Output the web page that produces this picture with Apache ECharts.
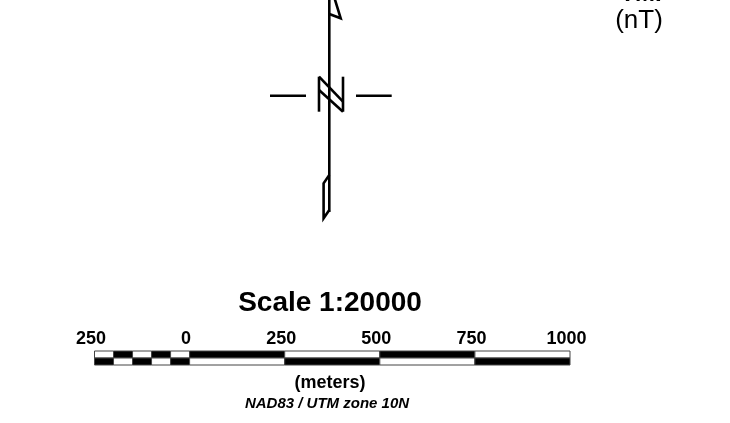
<!DOCTYPE html>
<html>
<head>
<meta charset="utf-8">
<script src="https://cdn.jsdelivr.net/npm/echarts@6/dist/echarts.min.js"></script>
<style>html,body{margin:0;padding:0;background:#fff}#c{width:730px;height:423px}</style>
</head>
<body>
<div id="c"></div>
<script>
// Scale bar data (meters)
var segStart = [-250, -200, -150, -100, -50, 0, 250, 500, 750];
var segEnd   = [-200, -150, -100, -50, 0, 250, 500, 750, 1000];
var topBlack = [0, 1, 0, 1, 0, 1, 0, 1, 0]; // top row fill: 1 = black
var tickValues = [-250, 0, 250, 500, 750, 1000];
var scaleTitle = 'Scale 1:20000';
var unitsLabel = '(meters)';
var projLabel = 'NAD83 / UTM zone 10N';
var legendTitle = 'TMI';
var legendUnits = '(nT)';

var cells = [];
for (var i = 0; i < segStart.length; i++) {
  cells.push([segStart[i], segEnd[i], 1, topBlack[i]]);
  cells.push([segStart[i], segEnd[i], 0, 1 - topBlack[i]]);
}

var F = '"Liberation Sans", Arial, sans-serif';
var chart = echarts.init(document.getElementById('c'));
var lw = 2.6;
function seg(x1, y1, x2, y2) {
  return {type: 'line', shape: {x1: x1, y1: y1, x2: x2, y2: y2}, style: {stroke: '#000', lineWidth: lw}};
}
chart.setOption({
  animation: false,
  backgroundColor: '#fff',
  grid: {left: 94.5, right: 160, top: 351, height: 14},
  xAxis: {
    type: 'value', position: 'top', min: -250, max: 1000, interval: 250,
    axisLine: {show: false}, axisTick: {show: false}, splitLine: {show: false},
    axisLabel: {
      margin: 3, color: '#000', fontFamily: F, fontWeight: 'bold', fontSize: 18,
      padding: [0, 7, 0, 0],
      formatter: function (v) { return String(Math.abs(v)); }
    }
  },
  yAxis: {type: 'value', min: 0, max: 2, show: false},
  series: [{
    type: 'custom',
    data: cells,
    renderItem: function (params, api) {
      var p0 = api.coord([api.value(0), api.value(2) + 1]);
      var p1 = api.coord([api.value(1), api.value(2)]);
      return {
        type: 'rect',
        shape: {x: p0[0], y: p0[1], width: p1[0] - p0[0], height: p1[1] - p0[1]},
        style: {fill: api.value(3) ? '#000' : '#fff', stroke: '#444', lineWidth: 1}
      };
    }
  }],
  graphic: [
    {type: 'text', style: {text: scaleTitle, x: 330, y: 303.5, align: 'center', verticalAlign: 'middle', font: 'bold 28px ' + F, fill: '#000'}},
    {type: 'text', style: {text: unitsLabel, x: 330, y: 383, align: 'center', verticalAlign: 'middle', font: 'bold 18px ' + F, fill: '#000'}},
    {type: 'text', style: {text: projLabel, x: 327, y: 404, align: 'center', verticalAlign: 'middle', font: 'italic bold 15px ' + F, fill: '#000'}},
    {type: 'text', style: {text: legendTitle, x: 641, y: 6, align: 'center', verticalAlign: 'bottom', font: 'bold 24px ' + F, fill: '#000'}},
    {type: 'text', style: {text: legendUnits, x: 639, y: 21, align: 'center', verticalAlign: 'middle', font: '26px ' + F, fill: '#000'}},
    // north arrow
    seg(329.3, -5, 329.3, 212),
    {type: 'polyline', shape: {points: [[329.3, 14], [340.7, 18.3], [332, -10]]}, style: {stroke: '#000', lineWidth: lw, fill: null, lineJoin: 'miter'}},
    {type: 'polyline', shape: {points: [[329.3, 175], [323.6, 183.3], [323.6, 218.3], [329.3, 210]]}, style: {stroke: '#000', lineWidth: lw, fill: null}},
    seg(270, 95.7, 306, 95.7),
    seg(356, 95.7, 391.7, 95.7),
    seg(319, 76.7, 319, 111.7),
    seg(343, 76.7, 343, 111.7),
    seg(319, 76.7, 343, 101.7),
    seg(319, 90, 343, 111.7)
  ]
});
</script>
</body>
</html>
